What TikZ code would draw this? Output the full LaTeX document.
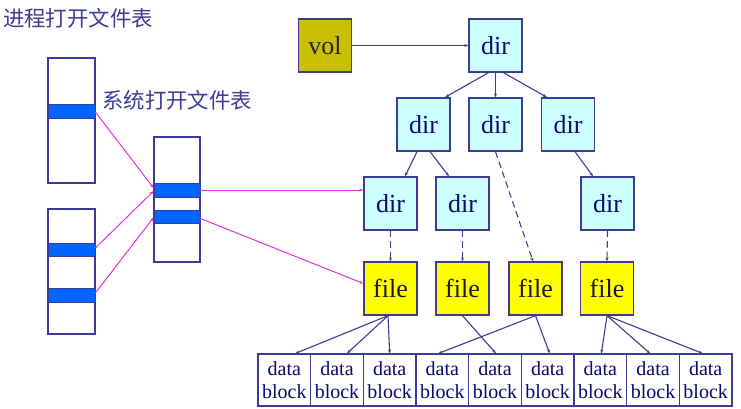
\documentclass[tikz,border=0pt]{standalone}
\usepackage{fontspec}
\setmainfont{Liberation Serif}
\newfontfamily\cjk{Noto Sans CJK SC}
\usetikzlibrary{arrows.meta,calc}
\definecolor{edgeblue}{RGB}{60,60,150}
\definecolor{navytext}{RGB}{10,10,110}
\definecolor{dircyan}{RGB}{204,255,255}
\definecolor{filey}{RGB}{255,255,0}
\definecolor{volc}{RGB}{200,192,0}
\definecolor{bandblue}{RGB}{0,102,255}
\definecolor{mag}{RGB}{225,50,225}
\definecolor{cjkc}{RGB}{60,60,150}
\tikzset{
  bigbox/.style={draw=edgeblue,line width=1.3pt,minimum width=53pt,minimum height=53pt,inner sep=0pt,text=navytext,font=\fontsize{26}{28}\selectfont},
  dirbox/.style={bigbox,fill=dircyan},
  filebox/.style={bigbox,fill=filey,text=black!90},
  volbox/.style={bigbox,fill=volc,text=black!85},
  dbbox/.style={draw=edgeblue,line width=1.1pt,minimum width=52.67pt,minimum height=52pt,inner sep=0pt,text=navytext,align=center,font=\fontsize{20}{23}\selectfont},
  tbl/.style={draw=edgeblue,line width=1.1pt},
  band/.style={draw=edgeblue,line width=0.8pt,fill=bandblue},
  conn/.style={draw=edgeblue,line width=1.1pt,-{Stealth[length=4pt,width=3pt]}},
  dconn/.style={conn,dash pattern=on 6.5pt off 4pt},
  mconn/.style={draw=mag,line width=1pt,-{Stealth[length=4pt,width=3pt]}},
  cjklabel/.style={text=cjkc,font=\cjk\fontsize{21.4}{24}\selectfont,anchor=west,inner sep=0pt}
}
\begin{document}
\begin{tikzpicture}[x=1pt,y=-1pt]
\useasboundingbox[fill=white] (0,0) rectangle (741,409);
% labels
\node[cjklabel] (t1) at (3,18) {进程打开文件表};
\node[cjklabel] (t2) at (102,100) {系统打开文件表};
% process open file tables
\node[tbl,minimum width=47pt,minimum height=125pt,inner sep=0pt] (p1) at (71.5,120.5) {};
\node[band,minimum width=47pt,minimum height=14pt,inner sep=0pt] (p1b) at (71.5,111) {};
\node[tbl,minimum width=47pt,minimum height=125pt,inner sep=0pt] (p2) at (71.5,271.5) {};
\node[band,minimum width=47pt,minimum height=13pt,inner sep=0pt] (p2a) at (71.5,249.5) {};
\node[band,minimum width=47pt,minimum height=14pt,inner sep=0pt] (p2b) at (71.5,295) {};
% system open file table
\node[tbl,minimum width=46pt,minimum height=125pt,inner sep=0pt] (sy) at (177,199.5) {};
\node[band,minimum width=46pt,minimum height=14pt,inner sep=0pt] (s1) at (177,190) {};
\node[band,minimum width=46pt,minimum height=13pt,inner sep=0pt] (s2) at (177,216.5) {};
% tree
\node[volbox] (vol) at (325,45.5) {vol};
\node[dirbox] (d0) at (495.5,45.5) {dir};
\node[dirbox] (d21) at (423.5,124.5) {dir};
\node[dirbox] (d22) at (495.5,124.5) {dir};
\node[dirbox] (d23) at (568,124.5) {dir};
\node[dirbox] (d31) at (390.5,203.5) {dir};
\node[dirbox] (d32) at (462.5,203.5) {dir};
\node[dirbox] (d33) at (607.5,203.5) {dir};
\node[filebox] (f1) at (390.5,288.5) {file};
\node[filebox] (f2) at (462.5,288.5) {file};
\node[filebox] (f3) at (535.5,288.5) {file};
\node[filebox] (f4) at (607,288.5) {file};
\foreach \i in {1,...,9}{
  \node[dbbox] (b\i) at ({258+52.67*(\i-0.5)},380) {data\\block};
}
% tree connectors
\draw[conn] (vol.east) -- (d0.west);
\draw[conn] ([xshift=-7pt]d0.south) -- ([xshift=21.5pt]d21.north);
\draw[conn] (d0.south) -- (d22.north);
\draw[conn] ([xshift=8pt]d0.south) -- ([xshift=-21pt]d23.north);
\draw[conn] ([xshift=-6.5pt]d21.south) -- ([xshift=14.5pt]d31.north);
\draw[conn] ([xshift=6.5pt]d21.south) -- ([xshift=-13.5pt]d32.north);
\draw[conn] ([xshift=7pt]d23.south) -- ([xshift=-14.5pt]d33.north);
\draw[dconn] (d22.south) -- ([xshift=-2.5pt]f3.north);
\draw[dconn] (d31.south) -- (f1.north);
\draw[dconn] (d32.south) -- (f2.north);
\draw[dconn] (d33.south) -- (f4.north);
% file to blocks
\draw[conn] ([xshift=-2.5pt]f1.south) -- ([xshift=11pt]b1.north);
\draw[conn] ([xshift=-2.5pt]f1.south) -- ([xshift=10pt]b2.north);
\draw[conn] ([xshift=-2.5pt]f1.south) -- ([xshift=0pt]b3.north);
\draw[conn] (f2.south) -- ([xshift=1pt]b5.north);
\draw[conn] (f3.south) -- ([xshift=-4pt]b4.north);
\draw[conn] (f3.south) -- ([xshift=2pt]b6.north);
\draw[conn] (f4.south) -- ([xshift=1pt]b7.north);
\draw[conn] (f4.south) -- ([xshift=-3pt]b8.north);
\draw[conn] (f4.south) -- ([xshift=-3pt]b9.north);
% magenta pointers
\draw[mconn] ([yshift=-1pt]p1b.east) -- ([yshift=2pt]s1.west);
\draw[mconn] ([yshift=1.5pt]p2a.east) -- ([yshift=-1pt]s1.west);
\draw[mconn] ([yshift=2pt]p2b.east) -- ([yshift=-1pt]s2.west);
\draw[mconn] (s1.east) -- (s1.east -| d31.west);
\draw[mconn] ([yshift=-2pt]s2.east) -- ([yshift=5pt]f1.west);
\end{tikzpicture}
\end{document}
